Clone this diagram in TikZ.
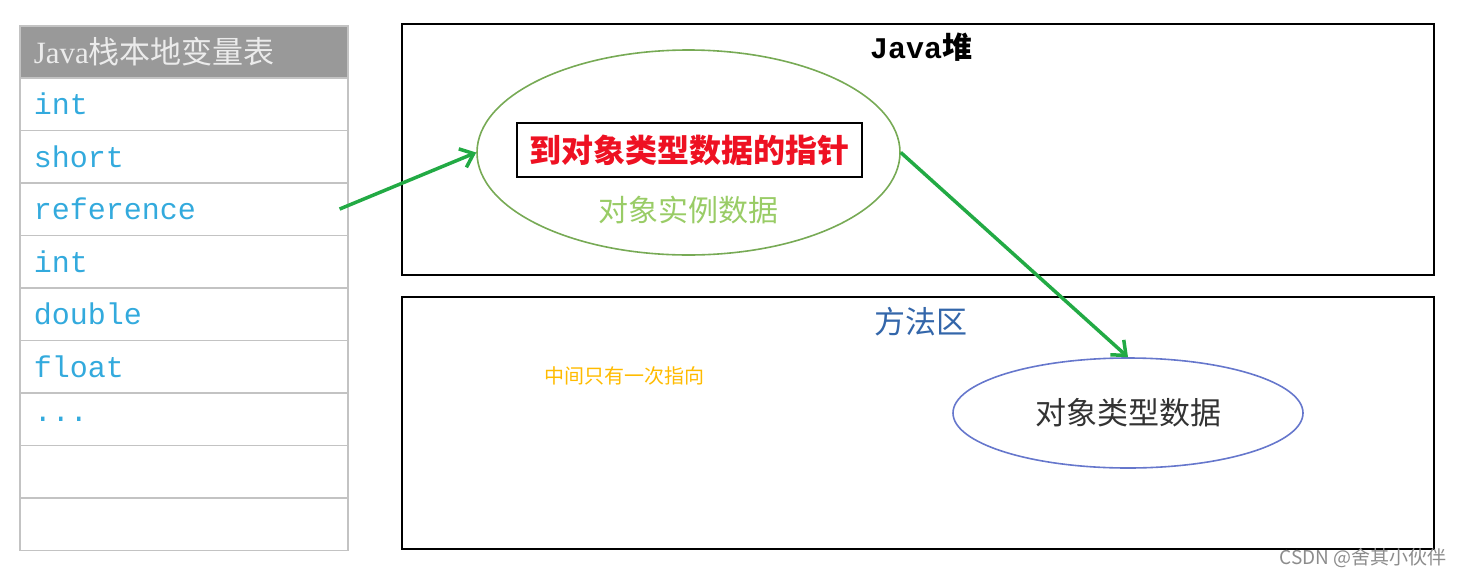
\documentclass[tikz,border=0pt]{standalone}
\usepackage{fontspec}
\setmainfont{Liberation Serif}
\setmonofont{Liberation Mono}
\newfontfamily\cjk{Noto Sans CJK SC}
\usetikzlibrary{arrows.meta,shapes.geometric}
\definecolor{hdrgray}{RGB}{153,153,153}
\definecolor{tblgray}{RGB}{195,195,195}
\definecolor{monoblue}{RGB}{51,170,221}
\definecolor{arrgreen}{RGB}{34,170,68}
\definecolor{objgreen}{RGB}{119,170,85}
\definecolor{instgreen}{RGB}{153,204,102}
\definecolor{ptrred}{RGB}{238,17,34}
\definecolor{clsblue}{RGB}{102,119,204}
\definecolor{areablue}{RGB}{51,102,170}
\definecolor{noteorange}{RGB}{255,187,0}
\newcommand\ellip{...}
\tikzset{
  cell/.style={draw=tblgray,line width=1.6pt,minimum height=52.5pt,text width=300pt,
    inner xsep=14pt,inner ysep=0pt,align=left,anchor=north west},
  area/.style={draw=black,line width=2.4pt,minimum width=1032pt},
  ptr/.style={draw=arrgreen,line width=3.5pt,-{Straight Barb[length=12pt,width=20pt]}},
}
\begin{document}
\begin{tikzpicture}[x=1pt,y=-1pt]
\useasboundingbox (0,0) rectangle (1464,579);
% tabela de variaveis locais
\node[cell,fill=hdrgray,text=white!92!black,font=\fontsize{31}{34}\selectfont] (hdr) at (19,25) {Java{\cjk 栈本地变量表}};
\foreach \t [count=\i] in {int,short,reference,int,double,float,\ellip,{},{}}{
  \node[cell,font=\ttfamily\fontsize{30}{32}\selectfont,text=monoblue] (row\i) at (19,{77+(\i-1)*52.5}) {\t};
}
% heap
\node[area,minimum height=251pt] (heap) at (918,149.5) {};
\node[font=\fontsize{30}{34}\selectfont] (heapname) at (921,47) {{\ttfamily\bfseries Java}{\cjk\bfseries 堆}};
\node[ellipse,draw=objgreen,line width=1.6pt,minimum width=423pt,minimum height=205pt] (obj) at (688.5,152.5) {};
\node[draw=black,line width=2.2pt,minimum width=345pt,minimum height=54pt,text=ptrred,font=\cjk\bfseries\fontsize{32}{36}\selectfont] (ptr) at (689.5,150) {到对象类型数据的指针};
\node[text=instgreen,font=\cjk\fontsize{30}{34}\selectfont] (inst) at (688.5,210) {对象实例数据};
% method area
\node[area,minimum height=252pt] (meth) at (918,423) {};
\node[text=areablue,font=\cjk\fontsize{31}{35}\selectfont] (methname) at (921,322) {方法区};
\node[ellipse,draw=clsblue,line width=1.6pt,minimum width=350pt,minimum height=110pt,text=black!80,font=\cjk\fontsize{31}{35}\selectfont] (cls) at (1128,413) {对象类型数据};
\node[text=noteorange,font=\cjk\fontsize{20}{24}\selectfont] (note) at (624,376) {中间只有一次指向};
% setas
\coordinate (refptr) at ([xshift=-9pt]row3.east);
\draw[ptr] (refptr) -- (obj.west);
\draw[ptr] (obj.east) -- (cls.north);
\node[text=black!45,font=\cjk\fontsize{19}{22}\selectfont] (wm) at (1363,558) {CSDN @舍其小伙伴};
\end{tikzpicture}
\end{document}
